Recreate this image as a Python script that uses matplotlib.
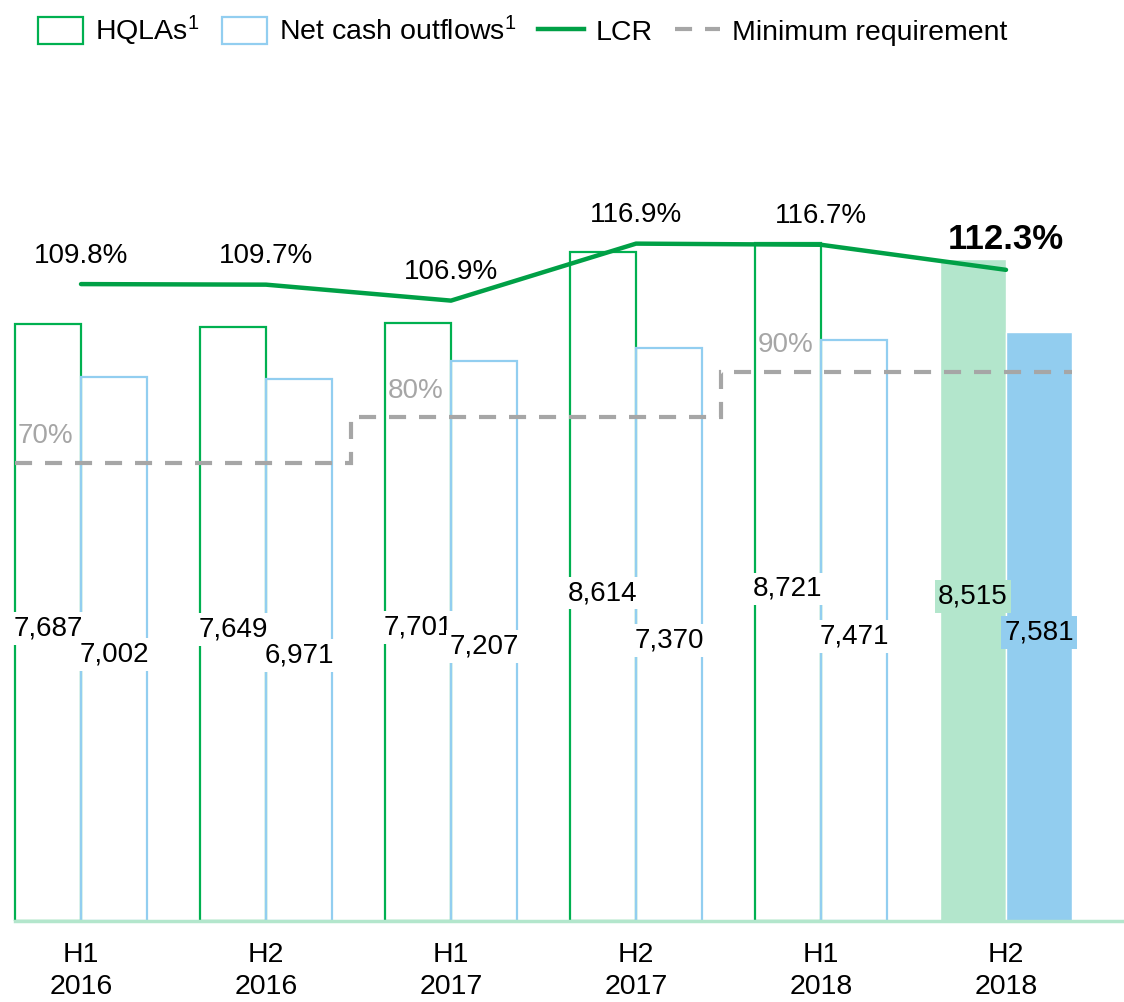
import numpy as np
import matplotlib.pyplot as plt
from matplotlib.patches import Patch
from matplotlib.lines import Line2D

plt.rcParams['font.family'] = ['Liberation Sans', 'DejaVu Sans']
plt.rcParams['mathtext.default'] = 'regular'

# Data
periods = ["H1\n2016", "H2\n2016", "H1\n2017", "H2\n2017", "H1\n2018", "H2\n2018"]
hqla = [7687, 7649, 7701, 8614, 8721, 8515]
net_outflows = [7002, 6971, 7207, 7370, 7471, 7581]
lcr = [109.8, 109.7, 106.9, 116.9, 116.7, 112.3]
min_req = [70, 70, 80, 80, 90, 90]

green = '#00B050'
green_line = '#00A046'
blue = '#92CEF0'
fill_green = '#B3E6CC'
fill_blue = '#92CDEF'
grey = '#A6A6A6'

fig = plt.figure(figsize=(11.24, 10.02), dpi=100)
ax = fig.add_axes([0, 81 / 1002, 1, 821 / 1002])
ax2 = ax.twinx()
ax3 = ax.twinx()

x = np.arange(len(periods))
w = 0.357

# bars: outlined except the latest period which is filled
for i in range(len(periods)):
    last = i == len(periods) - 1
    ax.bar(x[i] - w / 2, hqla[i], w,
           facecolor=fill_green if last else 'none',
           edgecolor='white' if last else green, lw=1.0 if last else 1.6, zorder=2)
    ax.bar(x[i] + w / 2, net_outflows[i], w,
           facecolor=fill_blue if last else 'none',
           edgecolor='white' if last else blue, lw=1.0 if last else 1.6, zorder=2)
    ax.annotate(f"{hqla[i]:,}", (x[i] - w / 2, hqla[i] * 0.49), ha='center', va='center',
                fontsize=20, zorder=5,
                bbox=dict(boxstyle='square,pad=0.12', fc=fill_green if last else 'white', ec='none'))
    ax.annotate(f"{net_outflows[i]:,}", (x[i] + w / 2, net_outflows[i] * 0.49), ha='center',
                va='center', fontsize=20, zorder=5,
                bbox=dict(boxstyle='square,pad=0.12', fc=fill_blue if last else 'white', ec='none'))

ax.set_xlim(-81 / 185, 1043 / 185)
ax.set_ylim(0, 10566)
ax.plot([x[0] - w, ax.get_xlim()[1]], [0, 0], color=fill_green, lw=2.5, zorder=3, clip_on=False)

# minimum requirement (step line)
edges = [x[0] - w] + [x[i] + 0.46 for i in range(len(x) - 1)] + [x[-1] + w]
ax3.stairs(min_req, edges, baseline=None, color=grey, lw=3,
           linestyle=(0, (4.1, 3.1)), zorder=3)
ax3.set_ylim(-30.7, 149.8)
prev = None
for i, v in enumerate(min_req):
    if v != prev:
        ax3.annotate(f"{v}%", (x[i] - w, v), xytext=(2, 10), textcoords='offset points',
                     ha='left', va='bottom', fontsize=20, color=grey)
    prev = v

# LCR line
ax2.plot(x, lcr, color=green_line, lw=3.2, zorder=4, solid_capstyle='round')
ax2.set_ylim(-1.95, 142.1)
for i, v in enumerate(lcr):
    last = i == len(lcr) - 1
    ax2.annotate(f"{v:.1f}%", (x[i], v), xytext=(0, 22 if last else 20.5),
                 textcoords='offset points', ha='center', va='center',
                 fontsize=25 if last else 20, fontweight='bold' if last else 'normal')

ax.set_xticks(x)
ax.set_xticklabels(periods, fontsize=20.5, linespacing=1.3)
ax.tick_params(axis='x', length=0, pad=15)
for a in (ax, ax2, ax3):
    a.set_yticks([])
    for s in a.spines.values():
        s.set_visible(False)

handles = [
    Patch(facecolor='white', edgecolor=green, lw=1.6),
    Patch(facecolor='white', edgecolor=blue, lw=1.6),
    Line2D([], [], color=green_line, lw=3.2),
    Line2D([], [], color=grey, lw=3, linestyle=(0, (4.1, 3.1))),
]
labels = ["HQLAs$^1$", "Net cash outflows$^1$", "LCR", "Minimum requirement"]
fig.legend(handles, labels, loc='upper left', bbox_to_anchor=(0.016, 1.006), ncol=4,
           frameon=False, fontsize=20.5, handlelength=1.6, handleheight=1.1,
           handletextpad=0.42, columnspacing=0.77, borderaxespad=0.3)

fig.savefig('out.png', dpi=100)
